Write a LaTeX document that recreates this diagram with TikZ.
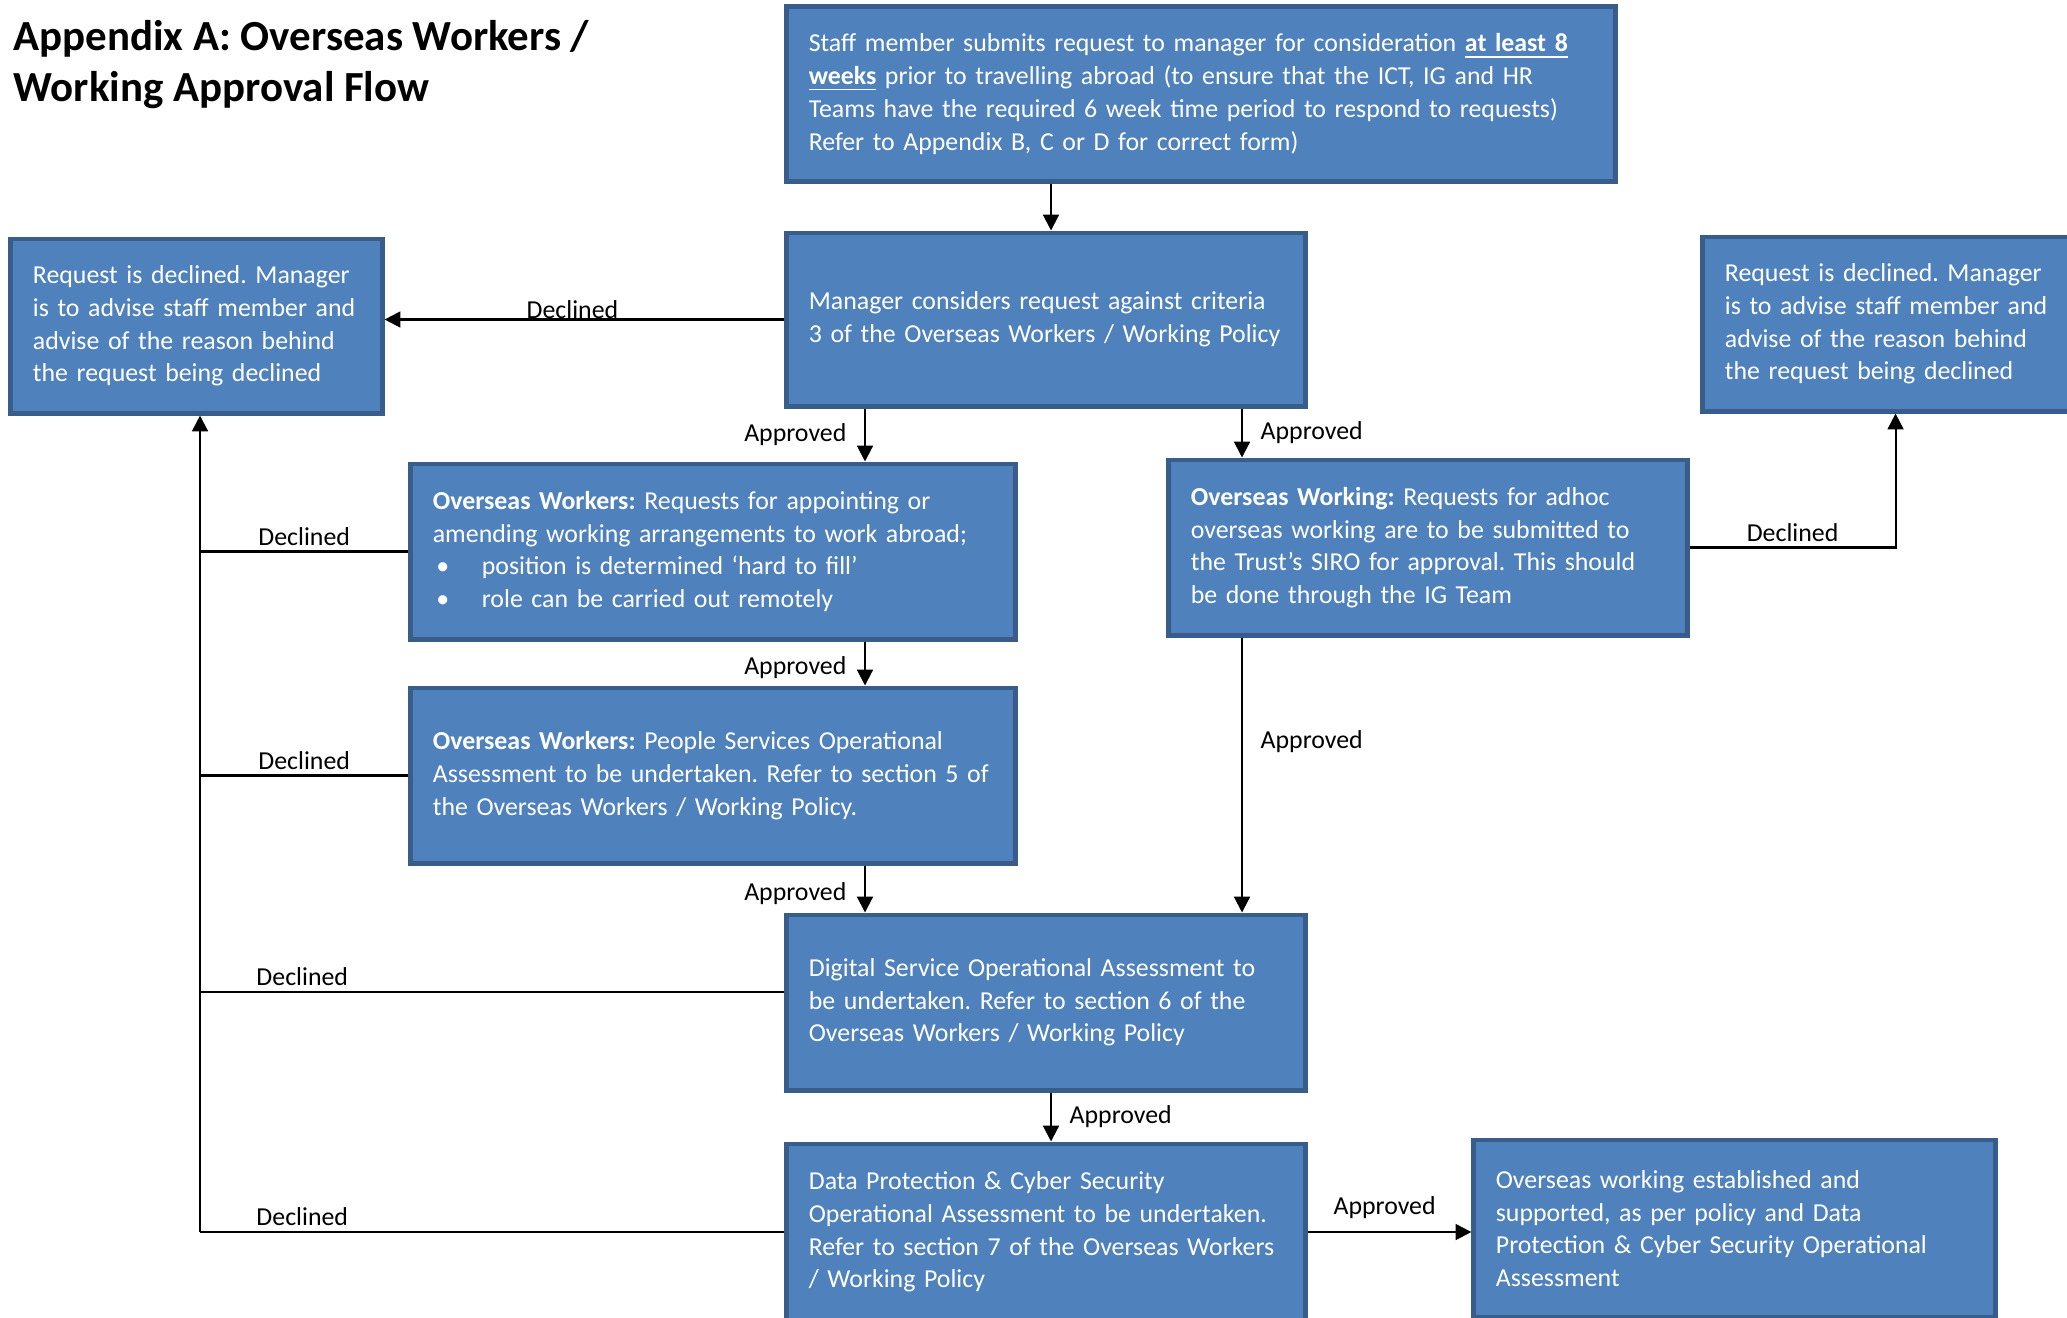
\documentclass[tikz,border=0pt]{standalone}
\usepackage{fontspec}
\setmainfont{Carlito}
\usepackage{xcolor}
\usepackage{tikz}
\usetikzlibrary{positioning, arrows.meta, calc}

\definecolor{boxblue}{HTML}{4F81BD}
\definecolor{boxedge}{HTML}{385D8A}
\newcommand{\boxfont}{\fontsize{7.35pt}{9.3pt}\selectfont\frenchspacing\hyphenpenalty=10000}
\newcommand{\bul}{\makebox[0.49cm][l]{\kern1pt\textbullet}}

\begin{document}
\begin{tikzpicture}[
    x=0.01cm, y=-0.01cm,
    flowbox/.style={draw=boxedge, fill=boxblue, line width=1.4pt, text=white, align=left, inner xsep=0.22cm, inner ysep=0pt, font=\boxfont},
    flowlabel/.style={font=\boxfont, text=black, inner sep=1.5pt},
    arrow/.style={-{Triangle[length=4.5pt,width=4.5pt]}, line width=0.6pt},
    plain/.style={line width=0.6pt},
    titletext/.style={font=\fontsize{12.2pt}{14.5pt}\selectfont\bfseries, align=left, inner sep=0pt}
]
    \path[use as bounding box, fill=white] (0,0) rectangle (2067,1317);

    % ================= TITLE =================
    \node[titletext, anchor=north west] (title) at (13,20) {Appendix A: Overseas Workers /\\ Working Approval Flow};

    % ================= REQUEST AND MANAGER =================
    \node[flowbox, text width=7.84cm, minimum height=1.74cm] (staff) at (1201,94) {Staff member submits request to manager for consideration \underline{\textbf{at least 8}}\\ \underline{\textbf{weeks}} prior to travelling abroad (to ensure that the ICT, IG and HR\\ Teams have the required 6 week time period to respond to requests)\\ Refer to Appendix B, C or D for correct form)};
    \node[flowbox, text width=4.74cm, minimum height=1.73cm] (mgr) at (1046,319.5) {Manager considers request against criteria\\ 3 of the Overseas Workers / Working Policy};

    \node[flowbox, text width=3.27cm, minimum height=1.74cm] (declL) at (196.5,326) {Request is declined. Manager\\ is to advise staff member and\\ advise of the reason behind\\ the request being declined};
    \node[flowbox, text width=3.27cm, minimum height=1.74cm] (declR) at (1888.5,324) {Request is declined. Manager\\ is to advise staff member and\\ advise of the reason behind\\ the request being declined};

    % ================= WORKERS / WORKING =================
    \node[flowbox, text width=5.60cm, minimum height=1.75cm] (ow1) at (713,551.5) {\textbf{Overseas Workers:} Requests for appointing or\\ amending working arrangements to work abroad;\\ \bul position is determined `hard to fill'\\ \bul role can be carried out remotely};
    \node[flowbox, text width=4.74cm, minimum height=1.75cm] (owk) at (1428,547.5) {\textbf{Overseas Working:} Requests for adhoc\\ overseas working are to be submitted to\\ the Trust's SIRO for approval. This should\\ be done through the IG Team};
    \node[flowbox, text width=5.60cm, minimum height=1.75cm] (ow2) at (713,775.5) {\textbf{Overseas Workers:} People Services Operational\\ Assessment to be undertaken. Refer to section 5 of\\ the Overseas Workers / Working Policy.};

    % ================= ASSESSMENTS =================
    \node[flowbox, text width=4.74cm, minimum height=1.75cm] (digital) at (1046,1002.5) {Digital Service Operational Assessment to\\ be undertaken. Refer to section 6 of the\\ Overseas Workers / Working Policy};
    \node[flowbox, text width=4.74cm, minimum height=1.76cm] (dpcs) at (1046,1232) {Data Protection \& Cyber Security\\ Operational Assessment to be undertaken.\\ Refer to section 7 of the Overseas Workers\\ / Working Policy};
    \node[flowbox, text width=4.77cm, minimum height=1.77cm] (final) at (1734.5,1228.5) {Overseas working established and\\ supported, as per policy and Data\\ Protection \& Cyber Security Operational\\ Assessment};

    \coordinate (lane1) at (865,0);
    \coordinate (lane2) at (1242,0);
    \coordinate (lane3) at (1051,0);
    \coordinate (trunk) at ([xshift=1pt]declL.south |- dpcs.west);
    \coordinate (declRin) at ([xshift=2pt]declR.south);
    \coordinate (digitalout) at ([yshift=3pt]digital.west);

    % ================= APPROVED PATHS =================
    \draw[arrow] (staff.south -| lane3) -- (mgr.north -| lane3);
    \draw[arrow] (mgr.south -| lane1) -- node[flowlabel, left=3.5pt] {Approved} (ow1.north -| lane1);
    \draw[arrow] (ow1.south -| lane1) -- node[flowlabel, left=3.5pt, pos=0.6] {Approved} (ow2.north -| lane1);
    \draw[arrow] (ow2.south -| lane1) -- node[flowlabel, left=3.5pt, pos=0.6] {Approved} (digital.north -| lane1);
    \draw[arrow] (mgr.south -| lane2) -- node[flowlabel, right=3.5pt] {Approved} (owk.north -| lane2);
    \draw[arrow] (owk.south -| lane2) -- node[flowlabel, right=3.5pt, pos=0.38] {Approved} (digital.north -| lane2);
    \draw[arrow] (digital.south -| lane3) -- node[flowlabel, right=3.5pt] {Approved} (dpcs.north -| lane3);
    \draw[arrow] (dpcs.east) -- node[flowlabel, above=2pt, pos=0.47] {Approved} (dpcs.east -| final.west);

    % ================= DECLINED PATHS =================
    \draw[arrow] (mgr.west) -- node[flowlabel, above, inner sep=0pt, pos=0.53] {Declined} (mgr.west -| declL.east);
    \draw[arrow] (owk.east) -- node[flowlabel, above] {Declined} (owk.east -| declRin) -- (declRin);

    \draw[plain] (ow1.west) -- node[flowlabel, above] {Declined} (ow1.west -| trunk);
    \draw[plain] (ow2.west) -- node[flowlabel, above] {Declined} (ow2.west -| trunk);
    \draw[plain] (digitalout) -- node[flowlabel, above, pos=0.825] {Declined} (digitalout -| trunk);
    \draw[plain] (dpcs.west) -- node[flowlabel, above, pos=0.825] {Declined} (trunk);
    \draw[arrow] (trunk) -- (trunk |- declL.south);

\end{tikzpicture}
\end{document}
